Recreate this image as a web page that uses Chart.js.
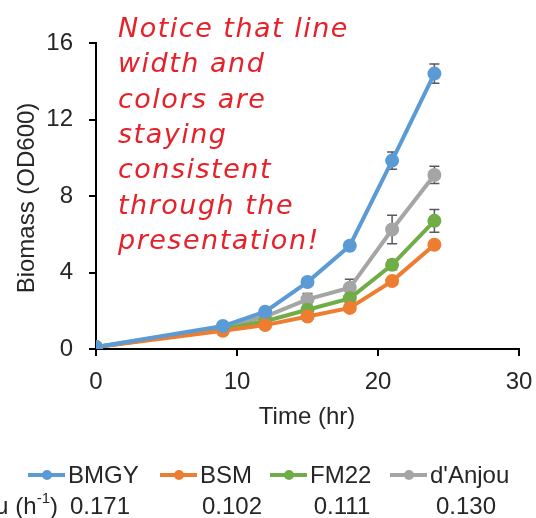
<!DOCTYPE html>
<html><head><meta charset="utf-8">
<script src="https://cdn.jsdelivr.net/npm/chart.js@4/dist/chart.umd.min.js"></script>
<style>html,body{margin:0;padding:0;background:#fff;overflow:hidden}#wrap{width:536px;height:518px}</style>
</head><body><div id="wrap"><canvas id="c" width="536" height="518"></canvas></div>
<script>
// ---- data ----
const timeHours = [0, 9, 12, 15, 18, 21, 24];
const seriesNames = ['BMGY', 'BSM', 'FM22', "d'Anjou"];
const bmgy   = [0.1, 1.2, 1.95, 3.5, 5.4, 9.85, 14.4];
const bsm    = [0.1, 0.95, 1.25, 1.7, 2.15, 3.55, 5.45];
const fm22   = [0.1, 1.05, 1.45, 2.05, 2.65, 4.4, 6.7];
const danjou = [0.1, 1.15, 1.7, 2.6, 3.2, 6.25, 9.1];
const bmgyErr   = [0, 0.08, 0.12, 0.1, 0.2, 0.45, 0.5];
const bsmErr    = [0, 0.05, 0.08, 0.08, 0.1, 0.1, 0.15];
const fm22Err   = [0, 0.05, 0.08, 0.1, 0.15, 0.25, 0.6];
const danjouErr = [0, 0.08, 0.1, 0.3, 0.45, 0.75, 0.45];
const growthRates = ['0.171', '0.102', '0.111', '0.130'];
const yTickValues = [0, 4, 8, 12, 16];
const xTickValues = [0, 10, 20, 30];
const noteLines = ['Notice that line', 'width and', 'colors are', 'staying', 'consistent', 'through the', 'presentation!'];

const colors = ['#5B9BD5', '#ED7D31', '#70AD47', '#A5A5A5'];
const values = [bmgy, bsm, fm22, danjou];
const errors = [bmgyErr, bsmErr, fm22Err, danjouErr];
const TXT = '#262626';
const FONT = '"Liberation Sans", Arial, sans-serif';

const datasets = seriesNames.map((n, i) => ({
  label: n,
  data: timeHours.map((t, j) => ({x: t, y: values[i][j]})),
  errs: errors[i],
  borderColor: colors[i], backgroundColor: colors[i],
  pointBackgroundColor: colors[i], pointBorderColor: colors[i],
  borderWidth: 4, pointRadius: 5, pointHoverRadius: 5, tension: 0
}));

const errorBars = {
  id: 'errorBars',
  beforeDatasetsDraw(chart) {
    const ctx = chart.ctx, xs = chart.scales.x, ys = chart.scales.y;
    ctx.save();
    ctx.strokeStyle = '#595959'; ctx.lineWidth = 1.5;
    chart.data.datasets.forEach(ds => {
      ds.data.forEach((p, j) => {
        const e = ds.errs[j]; if (!e) return;
        const x = xs.getPixelForValue(p.x);
        const y1 = ys.getPixelForValue(p.y + e), y2 = ys.getPixelForValue(p.y - e);
        ctx.beginPath();
        ctx.moveTo(x, y1); ctx.lineTo(x, y2);
        ctx.moveTo(x - 5, y1); ctx.lineTo(x + 5, y1);
        ctx.moveTo(x - 5, y2); ctx.lineTo(x + 5, y2);
        ctx.stroke();
      });
    });
    ctx.restore();
  }
};

const extras = {
  id: 'extras',
  afterDraw(chart) {
    const ctx = chart.ctx;
    ctx.save();
    ctx.fillStyle = TXT;
    // axis titles
    ctx.font = '24px ' + FONT;
    ctx.textAlign = 'center'; ctx.textBaseline = 'middle';
    ctx.fillText('Time (hr)', 307, 417);
    ctx.save();
    ctx.translate(27, 198); ctx.rotate(-Math.PI / 2);
    ctx.fillText('Biomass (OD600)', 0, 0);
    ctx.restore();
    // legend
    const legX = [28, 160, 270, 390];
    const legY = 475;
    ctx.textAlign = 'left';
    chart.data.datasets.forEach((ds, i) => {
      const x0 = legX[i];
      ctx.strokeStyle = ds.borderColor; ctx.lineWidth = 4;
      ctx.beginPath(); ctx.moveTo(x0, legY); ctx.lineTo(x0 + 37, legY); ctx.stroke();
      ctx.fillStyle = ds.borderColor;
      ctx.beginPath(); ctx.arc(x0 + 19, legY, 5, 0, Math.PI * 2); ctx.fill();
      ctx.fillStyle = TXT;
      ctx.fillText(ds.label, x0 + 40, legY + 1);
    });
    // growth rate row
    const rateY = 507;
    ctx.textAlign = 'right';
    const endX = 58;
    ctx.fillText(')', endX, rateY);
    let w = ctx.measureText(')').width;
    ctx.font = '15px ' + FONT;
    ctx.fillText('-1', endX - w, rateY - 8);
    w += ctx.measureText('-1').width;
    ctx.font = '24px ' + FONT;
    ctx.fillText('\u03BC (h', endX - w, rateY);
    ctx.textAlign = 'center';
    const rateX = [100, 232, 342, 466];
    growthRates.forEach((r, i) => ctx.fillText(r, rateX[i], rateY));
    // annotation
    ctx.fillStyle = '#E62129';
    ctx.font = 'italic 27px "DejaVu Sans", sans-serif';
    try { ctx.letterSpacing = '1.5px'; } catch (e) {}
    ctx.textAlign = 'left'; ctx.textBaseline = 'alphabetic';
    noteLines.forEach((l, i) => ctx.fillText(l, 118, 37 + i * 35.3));
    ctx.restore();
  }
};

new Chart(document.getElementById('c'), {
  type: 'line',
  data: {datasets},
  plugins: [errorBars, extras],
  options: {
    responsive: false, animation: false, devicePixelRatio: 1,
    layout: {padding: {left: 0, top: 43, right: 17, bottom: 0}},
    plugins: {legend: {display: false}, tooltip: {enabled: false}},
    scales: {
      x: {
        type: 'linear', min: 0, max: 30,
        afterFit: s => { s.height = 169; s.paddingLeft = 0; s.paddingRight = 0; },
        afterBuildTicks: s => { s.ticks = xTickValues.map(v => ({value: v})); },
        border: {color: '#000', width: 2},
        grid: {drawOnChartArea: false, drawTicks: true, tickLength: 7, color: '#000', lineWidth: 2},
        ticks: {color: TXT, font: {family: FONT, size: 24}, padding: 12, maxRotation: 0}
      },
      y: {
        type: 'linear', min: 0, max: 16,
        afterFit: s => { s.width = 96; s.paddingTop = 0; s.paddingBottom = 0; },
        afterBuildTicks: s => { s.ticks = yTickValues.map(v => ({value: v})); },
        border: {color: '#000', width: 2},
        grid: {drawOnChartArea: false, drawTicks: true, tickLength: 7, color: '#000', lineWidth: 2},
        ticks: {color: TXT, font: {family: FONT, size: 24}, padding: 16}
      }
    }
  }
});
</script></body></html>
